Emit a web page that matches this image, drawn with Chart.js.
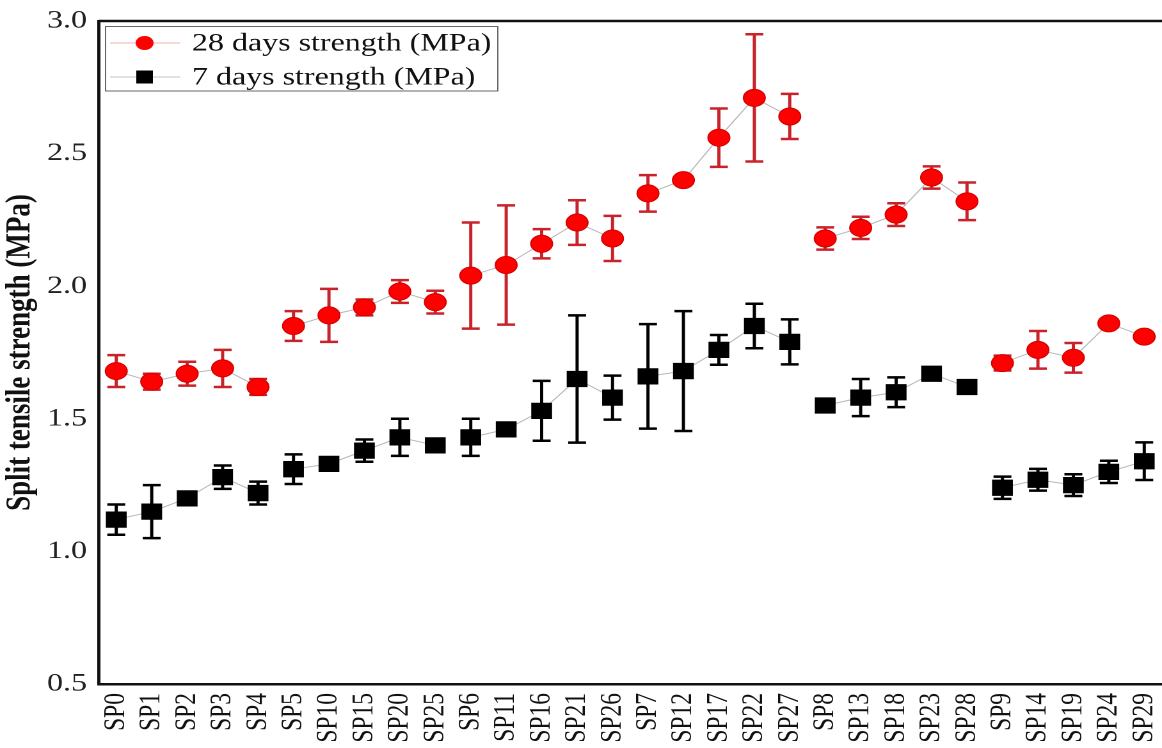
<!DOCTYPE html>
<html>
<head>
<meta charset="utf-8">
<script src="https://cdn.jsdelivr.net/npm/chart.js@4/dist/chart.umd.min.js"></script>
<style>
  html, body { margin: 0; padding: 0; background: #fff; overflow: hidden; }
  /* the source figure is stretched sideways, so the chart is drawn narrow and widened */
  #wrap { width: 908px; height: 748px; transform: scaleX(1.2797); transform-origin: 0 0; }
</style>
</head>
<body>
<div id="wrap"><canvas id="split-chart" width="908" height="748"></canvas></div>
<script>
var categories = ['SP0', 'SP1', 'SP2', 'SP3', 'SP4', 'SP5', 'SP10', 'SP15', 'SP20', 'SP25',
  'SP6', 'SP11', 'SP16', 'SP21', 'SP26', 'SP7', 'SP12', 'SP17', 'SP22', 'SP27',
  'SP8', 'SP13', 'SP18', 'SP23', 'SP28', 'SP9', 'SP14', 'SP19', 'SP24', 'SP29'];

var strength28 = [1.68, 1.64, 1.67, 1.69, 1.62, 1.85, 1.89, 1.92, 1.98, 1.94,
  2.04, 2.08, 2.16, 2.24, 2.18, 2.35, 2.40, 2.56, 2.71, 2.64,
  2.18, 2.22, 2.27, 2.41, 2.32, 1.71, 1.76, 1.73, 1.86, 1.81];
var error28 = [0.06, 0.03, 0.045, 0.07, 0.03, 0.056, 0.10, 0.03, 0.043, 0.043,
  0.20, 0.225, 0.055, 0.084, 0.085, 0.069, 0, 0.11, 0.24, 0.085,
  0.042, 0.042, 0.043, 0.042, 0.071, 0.028, 0.071, 0.056, 0, 0];

var strength7 = [1.12, 1.15, 1.20, 1.28, 1.22, 1.31, 1.33, 1.38, 1.43, 1.40,
  1.43, 1.46, 1.53, 1.65, 1.58, 1.66, 1.68, 1.76, 1.85, 1.79,
  1.55, 1.58, 1.60, 1.67, 1.62, 1.24, 1.27, 1.25, 1.30, 1.34];
var error7 = [0.057, 0.10, 0, 0.044, 0.043, 0.056, 0, 0.042, 0.07, 0,
  0.07, 0, 0.113, 0.24, 0.083, 0.197, 0.226, 0.056, 0.084, 0.085,
  0, 0.07, 0.056, 0, 0, 0.042, 0.041, 0.041, 0.042, 0.071];

var yTicks = [0.5, 1.0, 1.5, 2.0, 2.5, 3.0];

var seriesNames = ['28 days strength (MPa)', '7 days strength (MPa)'];

var serif = '"Liberation Serif", "Times New Roman", serif';

// lines only join points of the same group of five
function groupLine(color) {
  return function (ctx) {
    return ctx.p0DataIndex % 5 === 4 ? 'rgba(0,0,0,0)' : color;
  };
}

var errorBars = {
  id: 'errorBars',
  beforeDatasetsDraw: function (chart) {
    var ctx = chart.ctx;
    var yScale = chart.scales.y;
    ctx.save();
    chart.data.datasets.forEach(function (ds, i) {
      var meta = chart.getDatasetMeta(i);
      ctx.strokeStyle = ds.errorColor;
      ctx.lineWidth = 2.5;
      meta.data.forEach(function (pt, j) {
        var e = ds.errors[j];
        if (!e) return;
        var top = yScale.getPixelForValue(ds.data[j] + e);
        var bot = yScale.getPixelForValue(ds.data[j] - e);
        ctx.beginPath();
        ctx.moveTo(pt.x, top);
        ctx.lineTo(pt.x, bot);
        ctx.moveTo(pt.x - 7, top);
        ctx.lineTo(pt.x + 7, top);
        ctx.moveTo(pt.x - 7, bot);
        ctx.lineTo(pt.x + 7, bot);
        ctx.stroke();
      });
    });
    ctx.restore();
  }
};

var frameAndLegend = {
  id: 'frameAndLegend',
  afterDraw: function (chart) {
    var ctx = chart.ctx;
    var area = chart.chartArea;
    ctx.save();

    // top edge of the frame
    ctx.strokeStyle = '#111';
    ctx.lineWidth = 2.5;
    ctx.beginPath();
    ctx.moveTo(area.left, area.top);
    ctx.lineTo(area.right, area.top);
    ctx.stroke();

    // legend box
    ctx.strokeStyle = '#666';
    ctx.lineWidth = 1;
    ctx.strokeRect(82.5, 26.5, 306.5, 64.5);

    var rows = [
      { y: 43, line: '#f2b0b0', fill: '#ff0000', shape: 'circle', text: seriesNames[0] },
      { y: 77, line: '#c4c4c4', fill: '#000000', shape: 'rect', text: seriesNames[1] }
    ];
    rows.forEach(function (r) {
      ctx.strokeStyle = r.line;
      ctx.lineWidth = 1;
      ctx.beginPath();
      ctx.moveTo(86, r.y);
      ctx.lineTo(141, r.y);
      ctx.stroke();
      ctx.fillStyle = r.fill;
      if (r.shape === 'circle') {
        ctx.beginPath();
        ctx.arc(113, r.y, 7, 0, Math.PI * 2);
        ctx.fill();
      } else {
        ctx.fillRect(113 - 6.5, r.y - 6.5, 13, 13);
      }
      ctx.fillStyle = '#111';
      ctx.font = '25px ' + serif;
      ctx.textBaseline = 'middle';
      ctx.textAlign = 'left';
      ctx.fillText(r.text, 150, r.y + 1);
    });
    ctx.restore();
  }
};

new Chart(document.getElementById('split-chart'), {
  type: 'line',
  data: {
    labels: categories,
    datasets: [{
      label: seriesNames[0],
      data: strength28,
      errors: error28,
      errorColor: '#c8232a',
      borderColor: '#b0b0b0',
      borderWidth: 1,
      segment: { borderColor: groupLine('#b8b8b8') },
      pointStyle: 'circle',
      pointRadius: 8.5,
      pointHoverRadius: 8.5,
      pointBackgroundColor: '#ff0000',
      pointBorderColor: '#d40000',
      pointBorderWidth: 1,
      tension: 0
    }, {
      label: seriesNames[1],
      data: strength7,
      errors: error7,
      errorColor: '#000000',
      borderColor: '#b0b0b0',
      borderWidth: 1,
      segment: { borderColor: groupLine('#b8b8b8') },
      pointStyle: 'rect',
      pointRadius: 11.5,
      pointHoverRadius: 11.5,
      pointBackgroundColor: '#000000',
      pointBorderColor: '#000000',
      pointBorderWidth: 0,
      tension: 0
    }]
  },
  options: {
    responsive: false,
    animation: false,
    devicePixelRatio: 2,
    layout: { autoPadding: false, padding: { top: 21, left: 0, right: 0, bottom: 0 } },
    plugins: {
      legend: { display: false },
      tooltip: { enabled: false }
    },
    scales: {
      x: {
        offset: true,
        grid: { display: false, drawTicks: false },
        border: { display: true, color: '#111', width: 2.5 },
        ticks: {
          color: '#111',
          font: { family: serif, size: 23.5 },
          minRotation: 90,
          maxRotation: 90,
          autoSkip: false,
          padding: 9
        },
        afterFit: function (scale) {
          scale.height = 64;
          scale.paddingLeft = 0;
          scale.paddingRight = 0;
        }
      },
      y: {
        min: 0.5,
        max: 3.0,
        grid: { display: false, drawTicks: false },
        border: { display: true, color: '#111', width: 2.5 },
        afterBuildTicks: function (scale) {
          scale.ticks = yTicks.map(function (v) { return { value: v }; });
        },
        ticks: {
          color: '#222',
          font: { family: serif, size: 25 },
          padding: 9,
          callback: function (v) { return Number(v).toFixed(1); }
        },
        title: {
          display: true,
          text: 'Split tensile strength (MPa)',
          color: '#111',
          font: { family: serif, size: 27, weight: 'bold' },
          padding: { top: 0, bottom: 0 }
        },
        afterFit: function (scale) {
          scale.width = 77;
          scale.paddingTop = 0;
          scale.paddingBottom = 0;
        }
      }
    }
  },
  plugins: [errorBars, frameAndLegend]
});
</script>
</body>
</html>
